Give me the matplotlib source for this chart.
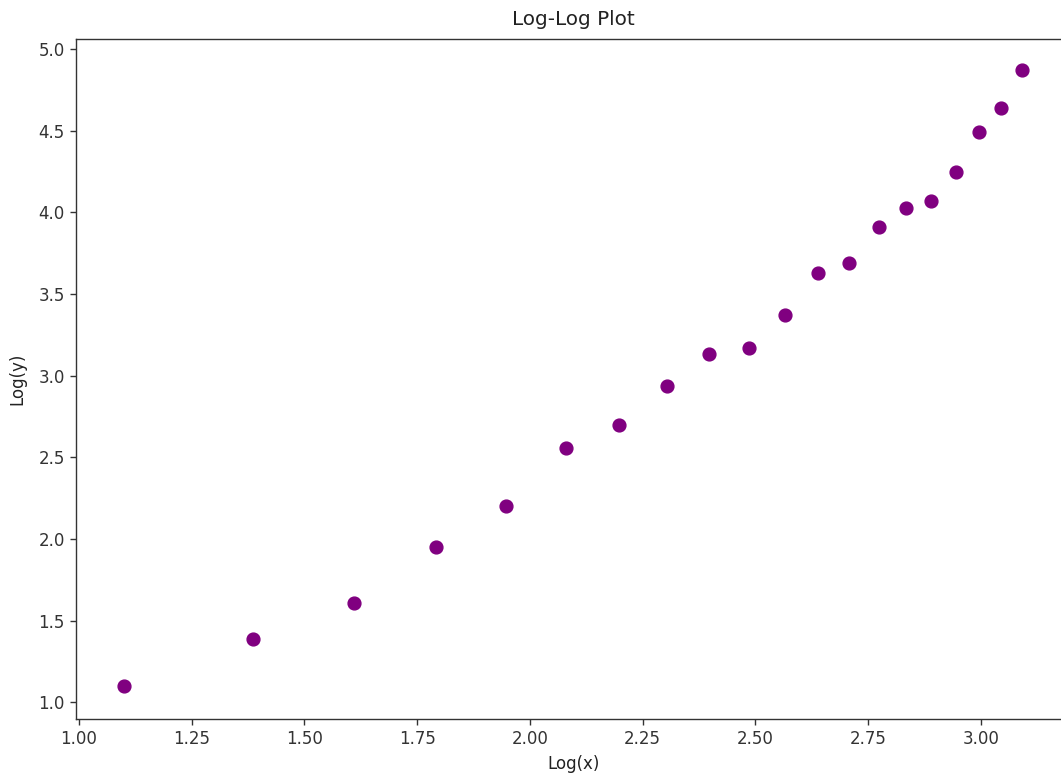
import numpy as np
import matplotlib
matplotlib.use('Agg')
import matplotlib.pyplot as plt

# values
log_x = [1.099, 1.386, 1.609, 1.792, 1.946, 2.079, 2.197, 2.303, 2.398, 2.485,
         2.565, 2.639, 2.708, 2.773, 2.833, 2.890, 2.944, 2.996, 3.045, 3.091]
log_y = [1.10, 1.39, 1.61, 1.95, 2.20, 2.56, 2.70, 2.94, 3.13, 3.17,
         3.37, 3.63, 3.69, 3.91, 4.03, 4.07, 4.25, 4.49, 4.64, 4.87]

plt.rcParams.update({'font.size': 12, 'text.color': '#222222',
                     'axes.labelcolor': '#222222', 'xtick.color': '#333333',
                     'ytick.color': '#333333', 'axes.edgecolor': '#333333'})
fig = plt.figure(figsize=(10.61, 7.75), dpi=100)
ax = fig.add_axes([0.0716, 0.0729, 0.938, 0.8764])

ax.scatter(log_x, log_y, color='purple', s=85)
ax.set_xlim(0.9933, 3.2)
ax.set_ylim(0.90, 5.061)
ax.set_xticks([1.00, 1.25, 1.50, 1.75, 2.00, 2.25, 2.50, 2.75, 3.00])
ax.set_yticks([1.0, 1.5, 2.0, 2.5, 3.0, 3.5, 4.0, 4.5, 5.0])
ax.tick_params(length=4.5, width=1.0)
for sp in ax.spines.values():
    sp.set_linewidth(1.0)

ax.set_title('Log-Log Plot', pad=10)
ax.set_xlabel('Log(x)', labelpad=5)
ax.set_ylabel('Log(y)', labelpad=9)

fig.savefig('out.png', dpi=100)
